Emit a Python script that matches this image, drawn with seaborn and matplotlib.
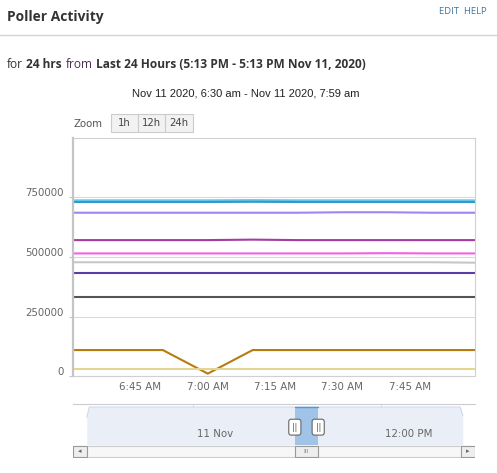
import matplotlib
matplotlib.use("Agg")
import matplotlib.pyplot as plt
from matplotlib import transforms
from matplotlib.patches import Rectangle
import seaborn as sns
import pandas as pd

# ---- data ----
times = ["06:30", "06:40", "06:50", "07:00", "07:10", "07:20", "07:30", "07:40", "07:50", "08:00"]

poller_cyan = [738000, 738000, 738000, 738000, 739000, 738000, 738000, 738000, 738000, 738000]
poller_blue = [731000, 731000, 731000, 731000, 732000, 731000, 731000, 731000, 731000, 731000]
poller_lilac = [686000, 686000, 686000, 686000, 686000, 686000, 688000, 688000, 686000, 686000]
poller_magenta = [571000, 571000, 571000, 571000, 573000, 571000, 571000, 571000, 571000, 571000]
poller_pink = [515000, 515000, 515000, 515000, 515000, 515000, 515000, 516000, 515000, 515000]
poller_grey = [478000, 478000, 478000, 478000, 478000, 478000, 478000, 478000, 478000, 476000]
poller_indigo = [434000, 434000, 434000, 434000, 434000, 434000, 434000, 434000, 434000, 434000]
poller_dark = [333000, 333000, 333000, 333000, 333000, 333000, 333000, 333000, 333000, 333000]
poller_brown = [109000, 109000, 109000, 10000, 109000, 109000, 109000, 109000, 109000, 109000]
poller_khaki = [29000, 29000, 29000, 29000, 29000, 29000, 29000, 29000, 29000, 29000]

series = {
    "cyan": poller_cyan, "blue": poller_blue, "lilac": poller_lilac,
    "magenta": poller_magenta, "pink": poller_pink, "grey": poller_grey,
    "indigo": poller_indigo, "dark": poller_dark, "brown": poller_brown,
    "khaki": poller_khaki,
}
colors = {
    "cyan": "#62c8e8", "blue": "#3399cc", "lilac": "#a184ee",
    "magenta": "#a53ca3", "pink": "#ef62e4", "grey": "#c6c6c6",
    "indigo": "#5c3da6", "dark": "#555555", "brown": "#b57c0f",
    "khaki": "#e3d592",
}

y_ticks = [0, 250000, 500000, 750000]
x_ticks = ["06:45", "07:00", "07:15", "07:30", "07:45"]
x_tick_labels = ["6:45 AM", "7:00 AM", "7:15 AM", "7:30 AM", "7:45 AM"]

# navigator (hours relative to midnight Nov 11)
nav_hours = [-6.78, -6.62, 17.05, 17.22]
nav_vals = [0.72, 1.0, 1.0, 0.78]
nav_ticks = [0, 12]
nav_tick_labels = ["11 Nov", "12:00 PM"]
sel_start, sel_end = 6.5, 7.99

W, H = 497, 473

rows = []
for name, vals in series.items():
    for t, v in zip(times, vals):
        rows.append({"time": pd.to_datetime("2020-11-11 " + t), "value": v, "series": name})
df = pd.DataFrame(rows)

sns.set_theme(style="white")
plt.rcParams["font.family"] = ["DejaVu Sans"]

fig = plt.figure(figsize=(W / 100, H / 100), dpi=100)
fig.patch.set_facecolor("white")
renderer = fig.canvas.get_renderer()

# background axes in pixel coords for the page furniture
bg = fig.add_axes([0, 0, 1, 1])
bg.set_xlim(0, W)
bg.set_ylim(H, 0)
bg.axis("off")

bg.text(7, 17, "Poller Activity", fontfamily="Open Sans", fontweight="bold",
        fontsize=9.9, color="#333333", va="center")
bg.text(487, 12, "EDIT  HELP", fontfamily="Open Sans", fontsize=6.8,
        color="#3d77a3", va="center", ha="right")
bg.plot([0, W], [35, 35], color="#d4d4d4", lw=1)

parts = [("for", "normal", "#333333"), ("24 hrs", "bold", "#333333"),
         ("from", "normal", "#4b2f4f"),
         ("Last 24 Hours (5:13 PM - 5:13 PM Nov 11, 2020)", "bold", "#333333")]
x = 7
for s, w, c in parts:
    t = bg.text(x, 68.5, s, fontfamily="Open Sans", fontweight=w, fontsize=8.55,
                color=c, va="baseline")
    x += t.get_window_extent(renderer).width + 3.5

bg.text(246, 94, "Nov 11 2020, 6:30 am - Nov 11 2020, 7:59 am",
        fontfamily="Liberation Sans", fontsize=8, color="#222222", ha="center", va="center")

bg.text(73, 124, "Zoom", fontsize=7.3, color="#555555", va="center")
for x0, x1, lab in [(111, 138, "1h"), (138, 165, "12h"), (165, 193, "24h")]:
    bg.add_patch(Rectangle((x0, 113.5), x1 - x0, 18, facecolor="#f2f2f2",
                           edgecolor="#cccccc", lw=0.8))
    bg.text((x0 + x1) / 2, 123, lab, fontsize=7.3, color="#444444", ha="center", va="center")

# ---- main chart ----
ax = fig.add_axes([73 / W, 1 - 376 / H, 402 / W, 238 / H])
sns.lineplot(data=df, x="time", y="value", hue="series", palette=colors,
             estimator=None, linewidth=1.5, legend=False, ax=ax)

ax.set_xlim(pd.to_datetime("2020-11-11 06:30"), pd.to_datetime("2020-11-11 07:59:30"))
ax.set_ylim(0, 1000000)
ax.set_yticks(y_ticks)
ax.set_yticklabels([str(v) for v in y_ticks])
ax.set_xticks([pd.to_datetime("2020-11-11 " + t) for t in x_ticks])
ax.set_xticklabels(x_tick_labels)
ax.set_xlabel("")
ax.set_ylabel("")
ax.grid(axis="y", color="#d8d8d8", lw=0.75)
ax.grid(axis="x", visible=False)
ax.set_axisbelow(True)
for side in ["top", "right", "bottom"]:
    ax.spines[side].set_color("#d0d0d0")
    ax.spines[side].set_linewidth(0.8)
ax.spines["left"].set_color("#c4c4c4")
ax.spines["left"].set_linewidth(1.6)
ax.tick_params(axis="y", length=3, width=0.8, color="#c4c4c4", pad=3.5,
               labelsize=7.4, labelcolor="#666666", left=True)
ax.tick_params(axis="x", length=0, pad=4, labelsize=7.4, labelcolor="#666666")
offset = transforms.ScaledTranslation(0, 0.05, fig.dpi_scale_trans)
for lbl in ax.get_yticklabels():
    lbl.set_transform(lbl.get_transform() + offset)

# ---- navigator ----
nav = fig.add_axes([73 / W, 1 - 445 / H, 402 / W, 41 / H])
nav.set_xlim(-7.66, 18.0)
nav.set_ylim(0, 1.08)
nav.fill_between(nav_hours, nav_vals, color="#eaeff7", lw=0)
sns.lineplot(x=nav_hours, y=nav_vals, color="#c9d9ee", lw=0.8, ax=nav)
nav.axvspan(sel_start, sel_end, ymax=1.0 / 1.08, color="#9fc4e7", lw=0)
nav.plot([sel_start, sel_end], [1.0, 1.0], color="#5b95d0", lw=1)
for h in nav_ticks:
    nav.axvline(h, color="#e0e0e0", lw=0.8, zorder=0)
for h, lab in zip(nav_ticks, nav_tick_labels):
    nav.text(h + 0.25, 0.28, lab, fontsize=7.4, color="#666666", ha="left", va="center")
for h in [sel_start, sel_end]:
    nav.text(h, 0.47, "||", fontsize=5.5, color="#444444", ha="center", va="center",
             bbox=dict(boxstyle="round,pad=0.45,rounding_size=0.3", fc="white",
                       ec="#666666", lw=0.8))
nav.set_xticks([])
nav.set_yticks([])
for side in ["left", "right", "bottom"]:
    nav.spines[side].set_visible(False)
nav.spines["top"].set_color("#cccccc")
nav.spines["top"].set_linewidth(0.8)
nav.set_xlabel("")
nav.set_ylabel("")

# ---- scrollbar ----
sb = fig.add_axes([73 / W, 1 - 458 / H, 402 / W, 13 / H])
sb.set_xlim(-7.66, 18.0)
sb.set_ylim(0, 1)
sb.axis("off")
sb.add_patch(Rectangle((0, 0.05), 1, 0.9, transform=sb.transAxes, facecolor="#f7f7f7",
                       edgecolor="#cccccc", lw=0.8))
bw = 14 / 402
for x0, arrow in [(0, "\u25c2"), (1 - bw, "\u25b8")]:
    sb.add_patch(Rectangle((x0, 0.05), bw, 0.9, transform=sb.transAxes,
                           facecolor="#eeeeee", edgecolor="#999999", lw=0.8))
    sb.text(x0 + bw / 2, 0.5, arrow, transform=sb.transAxes, fontsize=5,
            color="#666666", ha="center", va="center")
thumb_tr = transforms.blended_transform_factory(sb.transData, sb.transAxes)
sb.add_patch(Rectangle((sel_start, 0.05), sel_end - sel_start, 0.9, transform=thumb_tr,
                       facecolor="#eeeeee", edgecolor="#999999", lw=0.8))
sb.text((sel_start + sel_end) / 2, 0.5, "III", transform=thumb_tr, fontsize=4.5,
        color="#888888", ha="center", va="center")

plt.savefig("out.png", dpi=100)
